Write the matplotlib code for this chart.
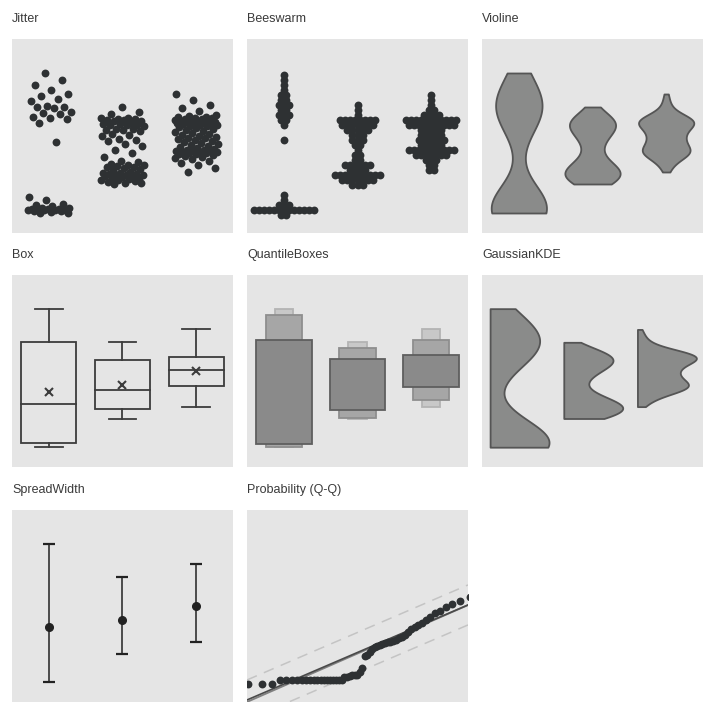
import numpy as np
import matplotlib
matplotlib.use("Agg")
import matplotlib.pyplot as plt
from matplotlib.patches import Rectangle
from statistics import NormalDist

plt.rcParams['font.family'] = ['Liberation Sans Narrow', 'Liberation Sans', 'DejaVu Sans']

# three samples
group_a = [2.0, 2.0, 2.1, 2.2, 2.2, 2.3, 2.3, 2.3, 2.3, 2.3, 2.4, 2.4, 2.4, 2.5, 2.5,
           2.7, 2.8, 2.9, 3.3, 3.6,
           9.1,
           11.0, 11.4, 11.5, 11.6, 11.9, 12.0, 12.1, 12.5, 12.6, 12.6, 12.7, 13.2, 13.4,
           13.7, 13.9, 14.3, 14.8, 15.3, 16.0]
group_b = [4.9, 5.0, 5.0, 5.1, 5.2, 5.3, 5.3, 5.4, 5.4, 5.5,
           5.6, 5.7, 5.7, 5.8, 5.8, 5.8, 5.9, 5.9, 6.0, 6.0, 6.1,
           6.3, 6.4, 6.5, 6.6, 6.6, 6.7, 6.8, 6.8, 6.9, 7.1, 7.2, 7.6,
           8.0, 8.3, 8.7, 8.9, 9.2, 9.3, 9.4, 9.7, 9.8, 9.9,
           10.2, 10.3, 10.3, 10.4, 10.4, 10.7, 10.8, 10.8, 10.8, 10.9, 10.9, 11.0,
           11.2, 11.2, 11.3, 11.3, 11.4, 11.4, 11.5, 11.5, 11.9, 12.1, 12.6]
group_c = [6.1, 6.5, 6.8, 7.0, 7.2,
           7.4, 7.5, 7.6, 7.7, 7.8, 7.9, 7.9, 8.0, 8.0, 8.1, 8.1, 8.1,
           8.2, 8.2, 8.2, 8.3, 8.3, 8.4, 8.5, 8.6, 8.7, 8.8, 8.9, 9.0,
           9.1, 9.2, 9.3, 9.4, 9.5, 9.5, 9.6, 9.7, 9.8, 9.9, 10.0, 10.1,
           10.2, 10.3, 10.4, 10.5, 10.6, 10.7, 10.7, 10.8, 10.8, 10.9, 10.9,
           11.0, 11.0, 11.0, 11.1, 11.1, 11.2, 11.2, 11.3, 11.3, 11.3,
           11.4, 11.4, 11.5, 11.5, 11.6, 11.6, 11.7, 11.8,
           12.2, 12.5, 12.8, 13.3, 13.9]
groups = [group_a, group_b, group_c]

# sorted sample shown in the Q-Q panel
qq_sample = [1.7, 1.8, 1.8, 1.8] + [2.2] * 17 + [2.5, 2.5, 2.6, 2.7, 2.7, 2.7, 3.0, 3.4,
             4.6, 4.7, 5.0, 5.3, 5.5, 5.6, 5.7, 5.8, 5.9, 6.0, 6.0, 6.1, 6.2, 6.4, 6.5,
             6.7, 7.0, 7.3, 7.5, 7.7, 7.9, 8.2, 8.5, 8.9, 9.1, 9.5, 9.8, 10.1, 10.5,
             11.0, 11.8]
qq_lines = [(5.32, 2.58), (5.22, 2.63)]   # intercept, slope
qq_band = 2.0

titles = ["Jitter", "Beeswarm", "Violine", "Box", "QuantileBoxes",
          "GaussianKDE", "SpreadWidth", "Probability (Q-Q)"]

BG = '#e5e5e5'
DOT = '#2e3133'
FILL = '#8a8b8a'
EDGE = '#555555'
YMAX = 19.4
pos = [1, 2, 3]


def kde(vals, grid):
    v = np.asarray(vals)
    sd = v.std(ddof=1)
    iqr = np.subtract(*np.percentile(v, [75, 25]))
    h = 0.9 * min(sd, iqr / 1.34) * len(v) ** -0.2
    d = np.exp(-0.5 * ((grid[:, None] - v[None, :]) / h) ** 2).sum(axis=1)
    return d / d.max()


fig = plt.figure(figsize=(7.15, 7.15), dpi=100)
W = 715.0
col_x = [12, 247, 482]
row_y = [(39, 194), (275, 192), (510, 192)]


def panel(i):
    r, c = divmod(i, 3)
    top, h = row_y[r]
    ax = fig.add_axes([col_x[c] / W, 1 - (top + h) / W, 221 / W, h / W])
    ax.set_facecolor(BG)
    for s in ax.spines.values():
        s.set_visible(False)
    ax.set_xticks([])
    ax.set_yticks([])
    ax.set_xlim(0.5, 3.5)
    ax.set_ylim(0, YMAX)
    fig.text(col_x[c] / W, 1 - (top - 20) / W, titles[i], ha='left', va='center',
             fontsize=9, color='#3a3a3a')
    return ax


# Jitter
ax = panel(0)
for p, g in zip(pos, groups):
    n = len(g)
    off = ((np.arange(n) * 0.618034 + 0.31) % 1 - 0.5) * 0.6
    ax.scatter(p + off, g, s=32, color=DOT, lw=0)

# Beeswarm
ax = panel(1)
for p, g in zip(pos, groups):
    rows = np.round((np.asarray(g) - 0.3) / 0.5)
    off = np.zeros(len(g))
    for r in np.unique(rows):
        idx = np.where(rows == r)[0]
        off[idx] = (np.arange(len(idx)) - (len(idx) - 1) / 2) * 0.068
    ax.scatter(p + off, rows * 0.5 + 0.3, s=32, color=DOT, lw=0)

# Violine
ax = panel(2)
for p, g in zip(pos, groups):
    grid = np.linspace(min(g), max(g), 200)
    d = kde(g, grid) * 0.375
    ax.fill_betweenx(grid, p - d, p + d, facecolor=FILL, edgecolor=EDGE, lw=1.3)

# Box
ax = panel(3)
for p, g in zip(pos, groups):
    q1, med, q3 = np.percentile(g, [25, 50, 75])
    lo, hi = min(g), max(g)
    ax.add_patch(Rectangle((p - 0.375, q1), 0.75, q3 - q1, fill=False,
                           edgecolor='#3c3c3c', lw=1.3))
    ax.plot([p - 0.375, p + 0.375], [med, med], color='#3c3c3c', lw=1.3)
    ax.plot([p, p], [q3, hi], color='#3c3c3c', lw=1.3)
    ax.plot([p, p], [lo, q1], color='#3c3c3c', lw=1.3)
    for y in (lo, hi):
        ax.plot([p - 0.19, p + 0.19], [y, y], color='#3c3c3c', lw=1.3)
    ax.plot(p, np.mean(g), marker='x', ms=6, mew=1.5, color='#3c3c3c')

# QuantileBoxes
ax = panel(4)
levels = [((0.0, 1.0), 0.245, '#c8c8c8', '#b4b4b4'),
          ((0.025, 0.975), 0.49, '#a6a6a6', '#8e8e8e'),
          ((0.2, 0.8), 0.76, '#8a8a8a', '#5e5e5e')]
for p, g in zip(pos, groups):
    for (a, b), w, fc, ec in levels:
        lo, hi = np.quantile(g, [a, b])
        ax.add_patch(Rectangle((p - w / 2, lo), w, hi - lo, facecolor=fc,
                               edgecolor=ec, lw=1.3))

# GaussianKDE
ax = panel(5)
for p, g in zip(pos, groups):
    grid = np.linspace(min(g), max(g), 200)
    d = kde(g, grid) * 0.8
    ax.fill_betweenx(grid, p - 0.39, p - 0.39 + d, facecolor=FILL, edgecolor=EDGE, lw=1.3)

# SpreadWidth
ax = panel(6)
for p, g in zip(pos, groups):
    ax.errorbar(p, np.mean(g), yerr=[[np.mean(g) - min(g)], [max(g) - np.mean(g)]],
                fmt='o', ms=5.5, color='#222222', ecolor='#222222', elinewidth=1.1,
                capsize=4.5, capthick=1.6)

# Probability (Q-Q)
ax = panel(7)
n = len(qq_sample)
z = np.array([NormalDist().inv_cdf((i + 0.5) / n) for i in range(n)])
zlim = ((247 - 366) / 60, (468 - 366) / 60)
ax.set_xlim(*zlim)
ax.set_ylim(0, 19.2)
zz = np.array(zlim)
b0, b1 = qq_lines[0]
ax.plot(zz, b0 + b1 * zz + qq_band, color='#c4c4c4', lw=1.1, dashes=(7, 5))
ax.plot(zz, b0 + b1 * zz - qq_band, color='#c4c4c4', lw=1.1, dashes=(7, 5))
ax.plot(zz, qq_lines[1][0] + qq_lines[1][1] * zz, color='#808080', lw=1.3)
ax.plot(zz, b0 + b1 * zz, color='#4a4a4a', lw=1.2)
ax.scatter(z, qq_sample, s=32, color=DOT, lw=0, zorder=3)

fig.savefig("out.png", dpi=100)
